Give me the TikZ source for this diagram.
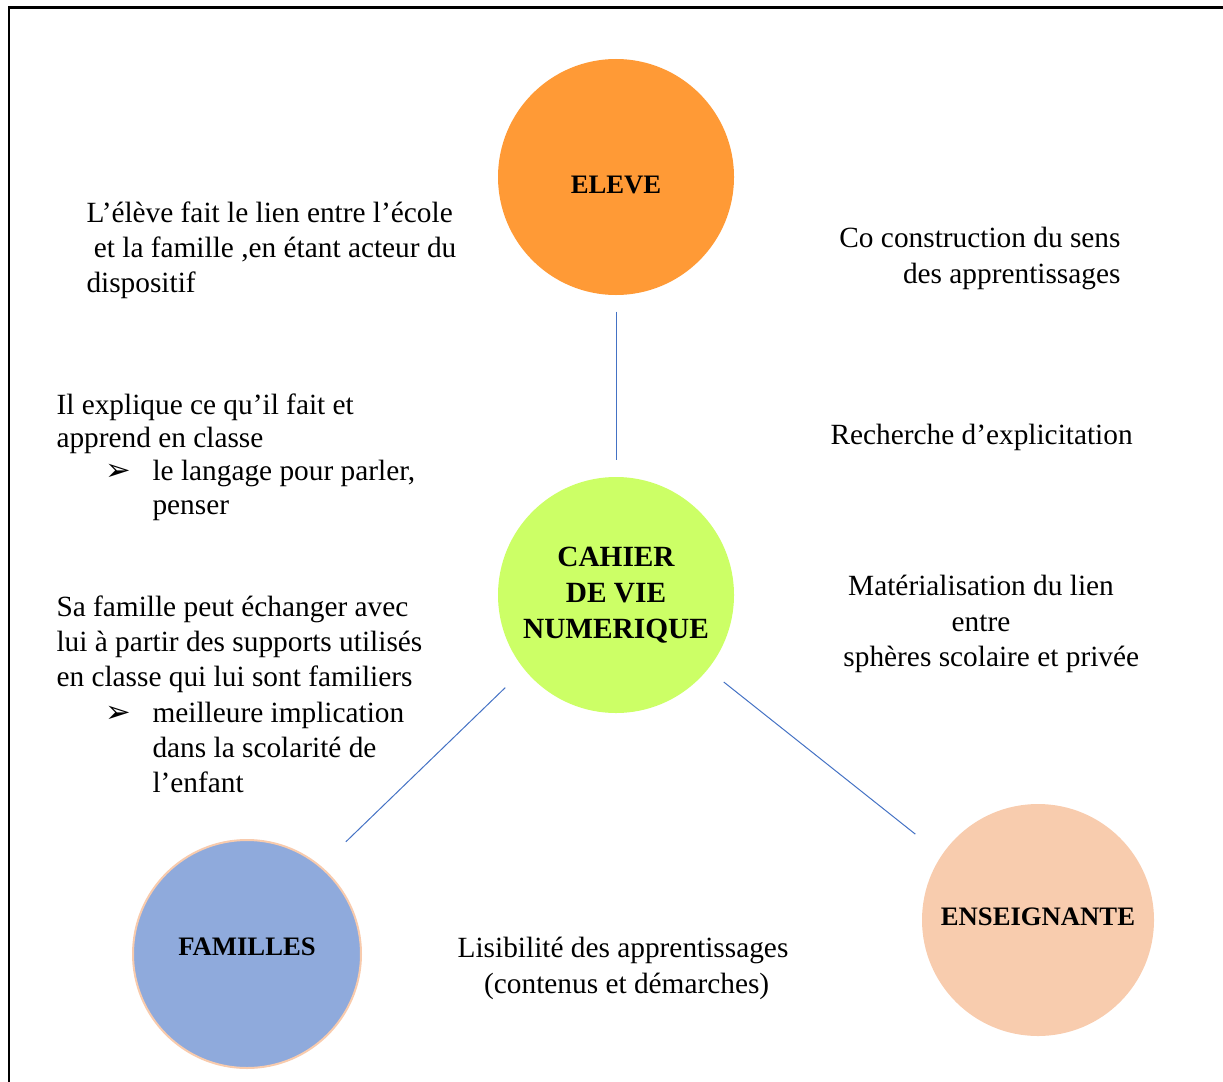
\documentclass[tikz,border=0pt]{standalone}
\usepackage{fontspec}
\setmainfont{Liberation Serif}
\newfontfamily\pucefont{DejaVu Sans}
\usetikzlibrary{calc}
\tikzset{every picture/.style={line width=0.75pt}}
\newcommand{\puce}{\hspace*{37pt}\makebox[35pt][l]{\pucefont\fontsize{23}{23}\selectfont ➢}}

\begin{document}
\begin{tikzpicture}[x=0.75pt,y=0.75pt,yscale=-1,xscale=1,
  bulle/.style={circle,inner sep=0pt,align=center,font=\fontsize{20}{27}\selectfont\bfseries},
  texte/.style={inner sep=0pt,font=\fontsize{22}{26.5}\selectfont},
  lien/.style={draw={rgb, 255:red, 68; green, 114; blue, 196 },line width=0.75pt}]
\useasboundingbox (0,0) rectangle (1223,1081);

%Shape: Frame
\draw [line width=1.9pt] (9,1100) -- (9,7.5) -- (1240,7.5) ;

%Shape: Circle [eleve]
\node [bulle,fill={rgb, 255:red, 255; green, 154; blue, 54 },minimum size=177pt,text height=25pt] (eleve) at (616,177) {ELEVE};
%Shape: Circle [cahier]
\node [bulle,fill={rgb, 255:red, 204; green, 255; blue, 102 },minimum size=177pt,font=\fontsize{22}{27}\selectfont\bfseries] (cahier) at (616,595) {CAHIER\\DE VIE\\NUMERIQUE};
%Shape: Circle [familles]
\node [bulle,fill={rgb, 255:red, 143; green, 170; blue, 220 },draw={rgb, 255:red, 248; green, 203; blue, 173 },line width=1.5pt,minimum size=171pt,text depth=10.5pt] (familles) at (247,954) {FAMILLES};
%Shape: Circle [enseignante]
\node [bulle,fill={rgb, 255:red, 248; green, 204; blue, 174 },minimum size=174pt,text depth=4.5pt] (enseignante) at (1038,920) {ENSEIGNANTE};

%Straight Lines
\draw [lien,shorten <=12pt,shorten >=12.75pt] (eleve) -- (cahier) ;
\draw [lien,shorten <=19.5pt,shorten >=26pt] (cahier.219.6) -- (familles.50.7) ;
\draw [lien,shorten <=15pt,shorten >=25pt] (cahier.321.5) -- (enseignante.146.7) ;

% Text Node
\node [texte,anchor=north west,align=left] (lienecole) at (86,201) {L’élève fait le lien entre l’école\\\hspace*{0.25em}et la famille ,en étant acteur du\\dispositif};
% Text Node
\node [texte,anchor=north west,align=left,font=\fontsize{22}{25}\selectfont] (explique) at (56,393) {Il explique ce qu’il fait et\\apprend en classe\\\puce le langage pour parler,\\\hspace*{72pt}penser};
% Text Node
\node [texte,anchor=north west,align=left] (echange) at (56,595) {Sa famille peut échanger avec\\lui à partir des supports utilisés\\en classe qui lui sont familiers\\\puce meilleure implication\\\hspace*{72pt}dans la scolarité de\\\hspace*{72pt}l’enfant};
% Text Node
\node [texte,anchor=north east,align=right] (sens) at (1121,227) {Co construction du sens\\des apprentissages};
% Text Node
\node [texte,anchor=base west] (explicitation) at (830,444) {Recherche d’explicitation};
% Text Node
\node [texte,anchor=north,align=center] (materialisation) at (981,575) {Matérialisation du lien\\entre\\\hspace*{0.7em}sphères scolaire et privée};
% Text Node
\node [texte,anchor=north,align=center] (lisibilite) at (623,937) {Lisibilité des apprentissages\\\hspace*{0.25em}(contenus et démarches)};

\end{tikzpicture}
\end{document}
